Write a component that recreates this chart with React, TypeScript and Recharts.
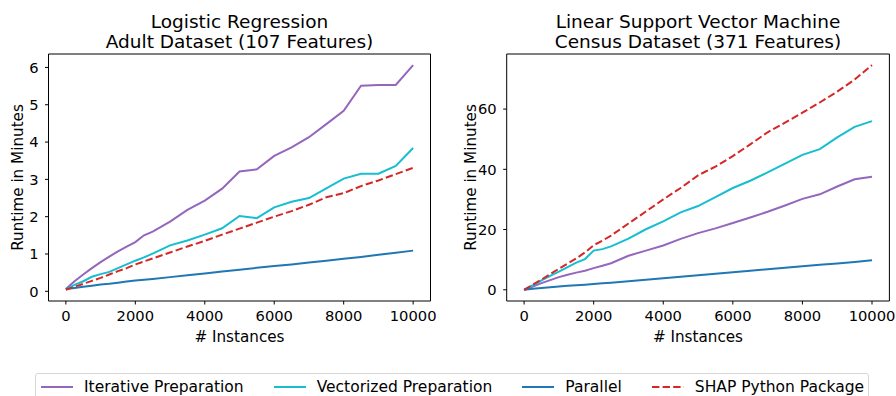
import { LineChart, Line, XAxis, YAxis, ReferenceArea } from 'recharts';

const instances = [
  0, 250, 500, 750, 1000, 1250, 1500, 1750, 2000, 2250, 2500, 3000, 3500, 4000, 4500,
  5000, 5500, 6000, 6500, 7000, 7500, 8000, 8500, 9000, 9500, 10000,
];
const xTicks = [0, 2000, 4000, 6000, 8000, 10000];

// Logistic Regression, Adult dataset (minutes)
const adultIterative = [
  0.06, 0.27, 0.45, 0.62, 0.78, 0.93, 1.07, 1.2, 1.32, 1.5, 1.6, 1.87, 2.18, 2.43, 2.75,
  3.21, 3.27, 3.63, 3.86, 4.13, 4.48, 4.84, 5.51, 5.53, 5.53, 6.06,
];
const adultVectorized = [
  0.06, 0.17, 0.27, 0.39, 0.46, 0.52, 0.62, 0.72, 0.82, 0.91, 1.01, 1.23, 1.36, 1.52, 1.69,
  2.02, 1.96, 2.25, 2.4, 2.5, 2.76, 3.02, 3.15, 3.15, 3.36, 3.84,
];
const adultParallel = [
  0.06, 0.09, 0.12, 0.15, 0.18, 0.2, 0.23, 0.26, 0.29, 0.31, 0.33, 0.38, 0.43, 0.48, 0.53,
  0.58, 0.63, 0.68, 0.72, 0.77, 0.82, 0.87, 0.92, 0.98, 1.03, 1.09,
];
const adultShap = [
  0.04, 0.12, 0.2, 0.28, 0.36, 0.45, 0.54, 0.62, 0.72, 0.8, 0.88, 1.04, 1.2, 1.35, 1.52,
  1.68, 1.84, 2.0, 2.15, 2.32, 2.52, 2.63, 2.82, 2.97, 3.14, 3.31,
];

// Linear SVM, Census dataset (minutes)
const censusIterative = [
  0, 1.1, 2.2, 3.2, 4.2, 5.0, 5.7, 6.3, 7.2, 8.0, 8.8, 11.3, 13.0, 14.7, 16.9,
  18.8, 20.4, 22.2, 24.0, 25.9, 28.0, 30.2, 31.7, 34.3, 36.7, 37.5,
];
const censusVectorized = [
  0, 1.5, 3.1, 4.6, 6.0, 7.5, 9.0, 10.2, 13.0, 13.5, 14.4, 17.0, 20.1, 22.7, 25.7,
  27.8, 30.8, 33.8, 36.2, 39.0, 41.9, 44.8, 46.7, 50.6, 54.1, 56.0,
];
const censusParallel = [
  0, 0.35, 0.6, 0.85, 1.1, 1.3, 1.5, 1.7, 1.95, 2.15, 2.35, 2.8, 3.3, 3.8, 4.3,
  4.8, 5.3, 5.8, 6.3, 6.8, 7.3, 7.8, 8.3, 8.7, 9.2, 9.8,
];
const censusShap = [
  0, 1.7, 3.4, 5.2, 7.0, 8.7, 10.4, 12.4, 14.8, 16.3, 18.0, 22.0, 26.0, 30.0, 33.8,
  38.0, 40.9, 44.4, 48.3, 52.3, 55.5, 58.8, 62.2, 65.8, 69.8, 74.6,
];

const seriesNames = ['Iterative Preparation', 'Vectorized Preparation', 'Parallel', 'SHAP Python Package'];
const seriesKeys = ['iterative', 'vectorized', 'parallel', 'shap'];
const seriesColors = ['#9467bd', '#17becf', '#1f77b4', '#d62728'];
const seriesDash = [undefined, undefined, undefined, '7.4 3.2'];

const font = "'DejaVu Sans', sans-serif";

function buildRows(values: number[][]) {
  return instances.map((x, i) => {
    const row: Record<string, number> = { x };
    seriesKeys.forEach((k, j) => {
      row[k] = values[j][i];
    });
    return row;
  });
}

const adultRows = buildRows([adultIterative, adultVectorized, adultParallel, adultShap]);
const censusRows = buildRows([censusIterative, censusVectorized, censusParallel, censusShap]);

interface PanelProps {
  rows: Record<string, number>[];
  yDomain: [number, number];
  yTicks: number[];
  yAxisWidth: number;
  marginRight: number;
  left: number;
}

function Panel({ rows, yDomain, yTicks, yAxisWidth, marginRight, left }: PanelProps) {
  const tickStyle = { fill: '#000', fontSize: 14.7, fontFamily: font };
  return (
    <div style={{ position: 'absolute', left, top: 0 }}>
      <LineChart
        width={448}
        height={396}
        data={rows}
        margin={{ top: 54, right: marginRight, bottom: 65, left: 0 }}
      >
        <XAxis
          dataKey="x"
          type="number"
          domain={[-500, 10500]}
          ticks={xTicks}
          interval={0}
          allowDataOverflow
          axisLine={false}
          tickLine={{ stroke: '#000' }}
          tickSize={3.5}
          tickMargin={6.5}
          tick={tickStyle}
          height={30}
        />
        <YAxis
          type="number"
          domain={yDomain}
          ticks={yTicks}
          interval={0}
          allowDataOverflow
          axisLine={false}
          tickLine={{ stroke: '#000' }}
          tickSize={3.5}
          tickMargin={6.5}
          tick={tickStyle}
          width={yAxisWidth}
        />
        <ReferenceArea
          x1={-500}
          x2={10500}
          y1={yDomain[0]}
          y2={yDomain[1]}
          fill="none"
          fillOpacity={0}
          stroke="#000"
          strokeWidth={1}
        />
        {seriesKeys.map((k, i) => (
          <Line
            key={k}
            type="linear"
            dataKey={k}
            stroke={seriesColors[i]}
            strokeWidth={2}
            strokeDasharray={seriesDash[i]}
            dot={false}
            activeDot={false}
            isAnimationActive={false}
          />
        ))}
      </LineChart>
    </div>
  );
}

export default function App() {
  return (
    <div style={{ position: 'absolute', left: 0, top: 0, width: 896, height: 396, background: '#fff', overflow: 'hidden' }}>
      <Panel
        rows={adultRows}
        yDomain={[-0.26, 6.36]}
        yTicks={[0, 1, 2, 3, 4, 5, 6]}
        yAxisWidth={48.5}
        marginRight={17.5}
        left={0}
      />
      <Panel
        rows={censusRows}
        yDomain={[-3.73, 78.3]}
        yTicks={[0, 20, 40, 60]}
        yAxisWidth={58.7}
        marginRight={6.6}
        left={448}
      />
      <svg
        width={896}
        height={396}
        style={{ position: 'absolute', left: 0, top: 0, pointerEvents: 'none' }}
        fontFamily={font}
      >
        <g fontSize={18.5} textAnchor="middle" fill="#000">
          <text x={239.5} y={27.5}>Logistic Regression</text>
          <text x={239.5} y={48}>Adult Dataset (107 Features)</text>
          <text x={698} y={27.5}>Linear Support Vector Machine</text>
          <text x={698} y={48}>Census Dataset (371 Features)</text>
        </g>
        <g fontSize={15.2} textAnchor="middle" fill="#000">
          <text x={239.5} y={342}># Instances</text>
          <text x={698} y={342}># Instances</text>
          <text transform="translate(22.5,177.5) rotate(-90)">Runtime in Minutes</text>
          <text transform="translate(475.5,177.5) rotate(-90)">Runtime in Minutes</text>
        </g>
      </svg>
      <div
        style={{
          position: 'absolute',
          left: 35,
          top: 373,
          width: 834,
          height: 32,
          border: '1px solid #d6d6d6',
          borderRadius: 3,
          boxSizing: 'border-box',
          display: 'flex',
          alignItems: 'flex-start',
          paddingLeft: 5,
          paddingTop: 3,
          fontFamily: font,
          fontSize: 15.5,
          color: '#000',
        }}
      >
        {seriesNames.map((name, i) => (
          <div key={name} style={{ display: 'flex', alignItems: 'center', marginRight: 30, height: 20 }}>
            <svg width={32} height={4} style={{ marginRight: 11 }}>
              <line
                x1={0}
                x2={32}
                y1={2}
                y2={2}
                stroke={seriesColors[i]}
                strokeWidth={2}
                strokeDasharray={seriesDash[i]}
              />
            </svg>
            <span style={{ whiteSpace: 'nowrap' }}>{name}</span>
          </div>
        ))}
      </div>
    </div>
  );
}
